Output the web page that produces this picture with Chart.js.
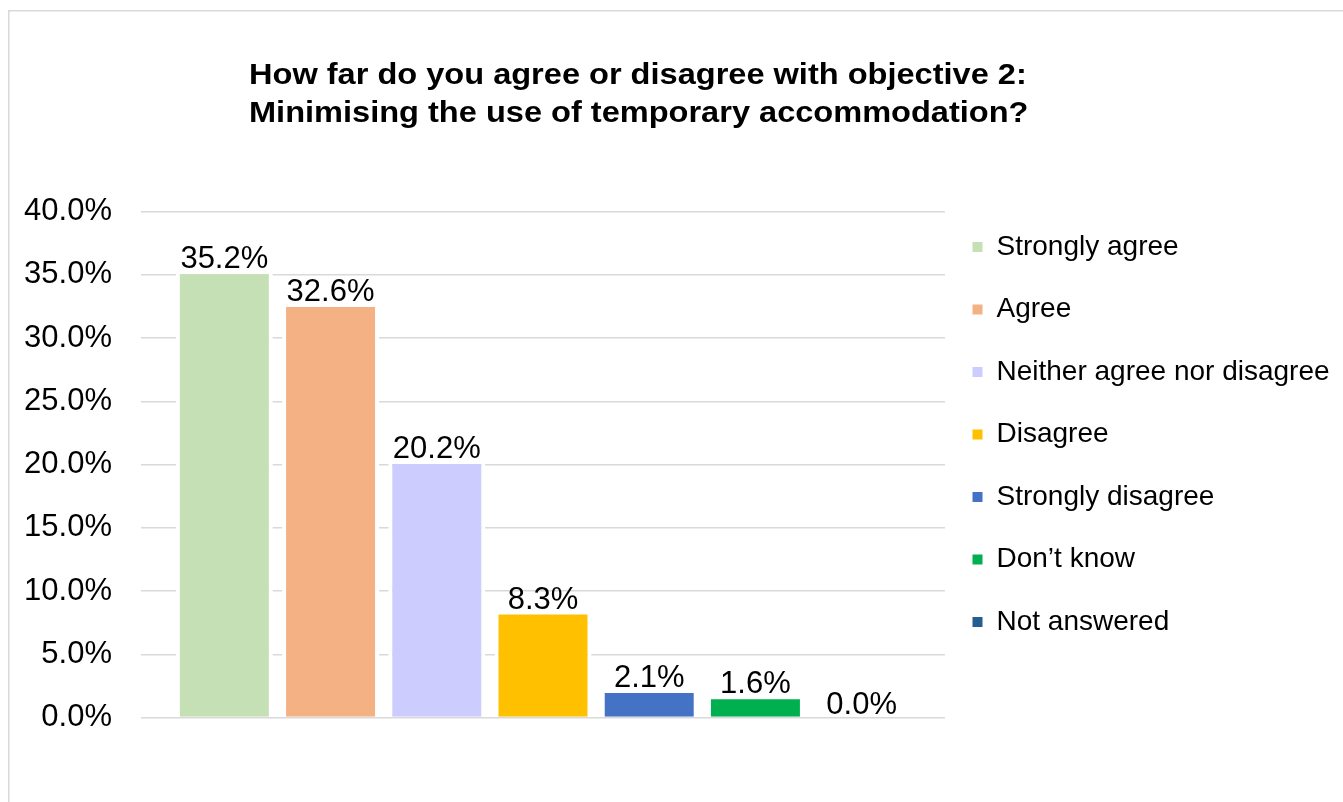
<!DOCTYPE html>
<html>
<head>
<meta charset="utf-8">
<script src="https://cdn.jsdelivr.net/npm/chart.js@4.4.0/dist/chart.umd.min.js"></script>
<style>
html,body{margin:0;padding:0;background:#fff;overflow:hidden}
#wrap{position:relative;width:1343px;height:802px}
</style>
</head>
<body>
<div id="wrap"><canvas id="c"></canvas></div>
<script>
const titleLines = ['How far do you agree or disagree with objective 2:', 'Minimising the use of temporary accommodation?'];
const categories = ['Strongly agree', 'Agree', 'Neither agree nor disagree', 'Disagree', 'Strongly disagree', 'Don\u2019t know', 'Not answered'];
const values = [35.2, 32.6, 20.2, 8.3, 2.1, 1.6, 0.0];
const colors = ['#C5E0B4', '#F4B183', '#CCCCFF', '#FFC000', '#4472C4', '#00B050', '#255E91'];
const yMin = 0, yMax = 40, yStep = 5;

const FONT = '"Liberation Sans", Arial, Helvetica, sans-serif';

const framePlugin = {
  id: 'frame',
  beforeDraw(chart) {
    const ctx = chart.ctx;
    ctx.save();
    ctx.fillStyle = '#ffffff';
    ctx.fillRect(0, 0, chart.width, chart.height);
    ctx.strokeStyle = '#d9d9d9';
    ctx.lineWidth = 1.5;
    ctx.strokeRect(8.75, 10.75, chart.width + 50, chart.height + 50);
    ctx.restore();
  }
};

const titlePlugin = {
  id: 'customTitle',
  afterDraw(chart) {
    const ctx = chart.ctx;
    ctx.save();
    ctx.fillStyle = '#000';
    ctx.font = 'bold 30px ' + FONT;
    ctx.textAlign = 'left';
    ctx.textBaseline = 'alphabetic';
    ctx.translate(249, 0);
    ctx.scale(1.085, 1);
    ctx.fillText(titleLines[0], 0, 83.5);
    ctx.fillText(titleLines[1], 0, 121.5);
    ctx.restore();
  }
};

const labelPlugin = {
  id: 'valueLabels',
  afterDatasetsDraw(chart) {
    const ctx = chart.ctx;
    ctx.save();
    ctx.fillStyle = '#000';
    ctx.font = '31px ' + FONT;
    ctx.textAlign = 'center';
    ctx.textBaseline = 'alphabetic';
    chart.data.datasets.forEach((ds, i) => {
      const meta = chart.getDatasetMeta(i);
      const el = meta.data[0];
      if (!el) return;
      ctx.fillText(ds.data[0].toFixed(1) + '%', el.x, el.y - 4);
    });
    ctx.restore();
  }
};

const legendNudge = {
  id: 'legendNudge',
  afterLayout(chart) {
    const l = chart.legend;
    if (!l) return;
    l.left -= 7; l.right -= 7;
    l.top -= 13; l.bottom -= 13;
  }
};

new Chart(document.getElementById('c'), {
  type: 'bar',
  data: {
    labels: [''],
    datasets: categories.map((c, i) => ({
      label: c,
      data: [values[i]],
      backgroundColor: colors[i],
      borderColor: '#ffffff',
      borderWidth: {top: 2, left: 4, right: 4, bottom: 0},
      categoryPercentage: 0.9248,
      barPercentage: 0.913
    }))
  },
  options: {
    responsive: true,
    maintainAspectRatio: false,
    animation: false,
    layout: {padding: {top: 211.5, bottom: 84.5, left: 0, right: 0}},
    plugins: {
      title: {display: false},
      tooltip: {enabled: false},
      legend: {
        position: 'right',
        align: 'start',
        maxWidth: 398,
        labels: {
          boxWidth: 10,
          boxHeight: 10,
          padding: 34.5,
          color: '#000',
          font: {family: FONT, size: 28},
          generateLabels: (chart) => chart.data.datasets.map((d, i) => ({
            text: d.label,
            fillStyle: d.backgroundColor,
            strokeStyle: d.backgroundColor,
            lineWidth: 0,
            hidden: false,
            datasetIndex: i,
            fontColor: '#000'
          }))
        }
      }
    },
    scales: {
      x: {display: false},
      y: {
        min: yMin,
        max: yMax,
        ticks: {
          stepSize: yStep,
          padding: 29,
          color: '#000',
          font: {family: FONT, size: 31},
          callback: (v) => Number(v).toFixed(1) + '%'
        },
        grid: {color: '#d9d9d9', lineWidth: 1.5, drawTicks: false},
        border: {display: false},
        afterFit: (s) => { s.width = 141; }
      }
    }
  },
  plugins: [framePlugin, titlePlugin, labelPlugin, legendNudge]
});
</script>
</body>
</html>
